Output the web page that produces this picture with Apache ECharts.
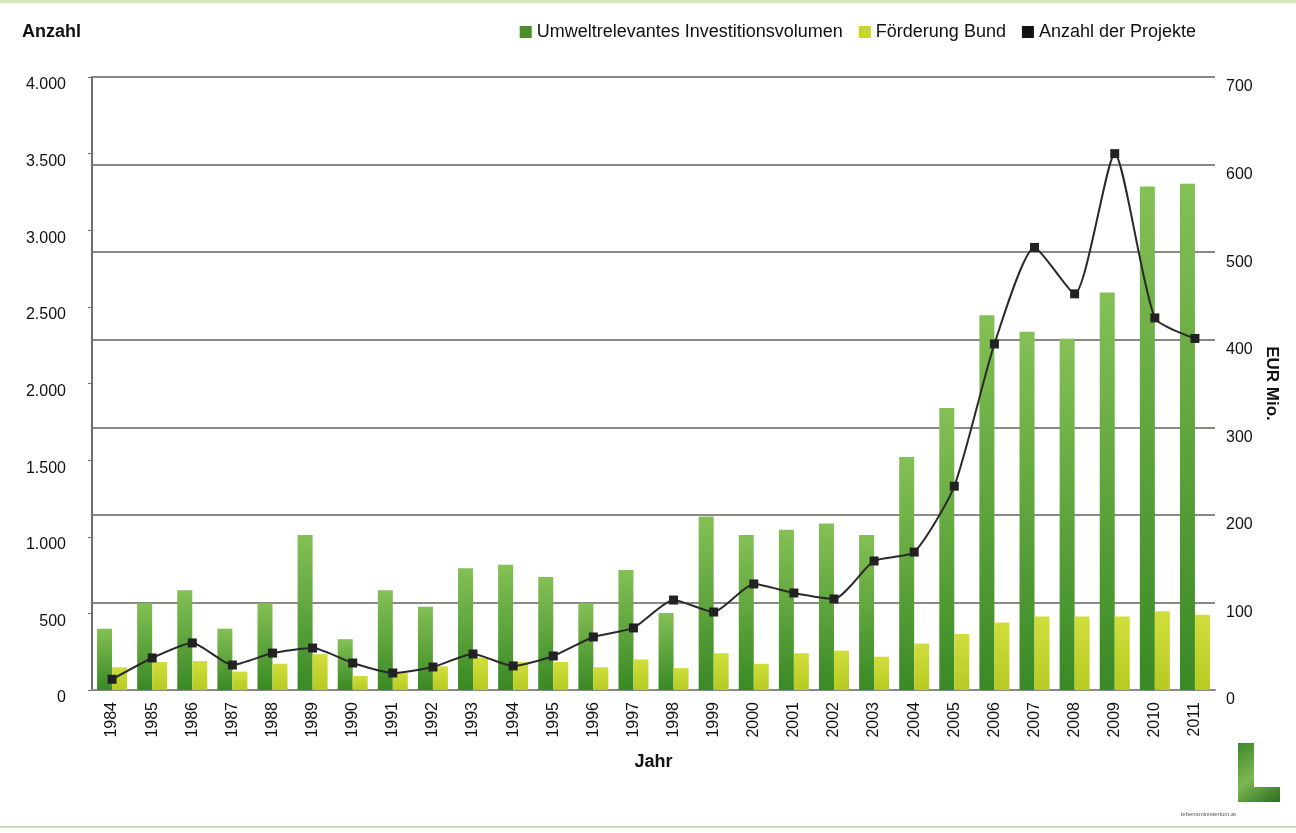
<!DOCTYPE html>
<html>
<head>
<meta charset="utf-8">
<script src="https://cdn.jsdelivr.net/npm/echarts@6/dist/echarts.min.js"></script>
<style>
  html, body { margin: 0; padding: 0; background: #ffffff; }
  #chart { width: 1296px; height: 833px; }
</style>
</head>
<body>
<div id="chart"></div>
<script>
// Jahre
const years = ['1984','1985','1986','1987','1988','1989','1990','1991','1992','1993',
  '1994','1995','1996','1997','1998','1999','2000','2001','2002','2003',
  '2004','2005','2006','2007','2008','2009','2010','2011'];

// Umweltrelevantes Investitionsvolumen (EUR Mio.)
const investVolume = [70, 99, 114, 70, 99, 177, 58, 114, 95, 139,
  143, 129, 99, 137, 88, 198, 177, 183, 190, 177,
  266, 322, 428, 409, 401, 454, 575, 578];

// Förderung Bund (EUR Mio.)
const foerderung = [26, 32, 33, 21, 30, 41, 16, 20, 27, 37,
  32, 32, 26, 35, 25, 42, 30, 42, 45, 38,
  53, 64, 77, 84, 84, 84, 90, 86];

// Anzahl der Projekte
const projekte = [70, 209, 307, 163, 241, 274, 176, 111, 150, 235,
  157, 222, 346, 405, 587, 509, 692, 633, 594, 842,
  900, 1330, 2258, 2888, 2585, 3500, 2428, 2294];

const FONT = '"Liberation Sans", Arial, sans-serif';
const fmtDE = v => String(v).replace(/\B(?=(\d{3})+(?!\d))/g, '.');

const chart = echarts.init(document.getElementById('chart'));
chart.setOption({
  animation: false,
  backgroundColor: '#ffffff',
  textStyle: { fontFamily: FONT, color: '#111' },
  title: {
    text: 'Anzahl', left: 17, top: 18,
    textStyle: { fontFamily: FONT, fontSize: 18, fontWeight: 'bold', color: '#111' }
  },
  legend: {
    right: 95, top: 18,
    itemWidth: 12, itemHeight: 12, itemGap: 16,
    icon: 'rect',
    textStyle: { fontFamily: FONT, fontSize: 18, color: '#111', padding: [0, 0, 0, 0] },
    data: [
      { name: 'Umweltrelevantes Investitionsvolumen', itemStyle: { color: '#4a8f2a' } },
      { name: 'Förderung Bund', itemStyle: { color: '#c6d62c' } },
      { name: 'Anzahl der Projekte', itemStyle: { color: '#111' } }
    ]
  },
  grid: { left: 92, right: 81, top: 77, bottom: 143 },
  xAxis: {
    type: 'category',
    data: years,
    name: 'Jahr',
    nameLocation: 'middle',
    nameGap: 63,
    nameTextStyle: { fontFamily: FONT, fontSize: 18, fontWeight: 'bold', color: '#111' },
    axisLine: { lineStyle: { color: '#8a8a84', width: 2 } },
    axisTick: { show: false },
    axisLabel: { rotate: 90, fontSize: 16, margin: 12, color: '#111', fontFamily: FONT }
  },
  yAxis: [
    {
      type: 'value', min: 0, max: 4000, interval: 500,
      position: 'left',
      axisLine: { show: true, lineStyle: { color: '#6e6e6a', width: 2 } },
      axisTick: { show: true, length: 4, lineStyle: { color: '#6e6e6a' } },
      splitLine: { show: false },
      axisLabel: {
        fontSize: 16, margin: 26, color: '#111', fontFamily: FONT,
        formatter: fmtDE, verticalAlign: 'top'
      }
    },
    {
      type: 'value', min: 0, max: 700, interval: 100,
      position: 'right',
      name: 'EUR Mio.',
      nameLocation: 'middle',
      nameRotate: -90,
      nameGap: 44,
      nameTextStyle: { fontFamily: FONT, fontSize: 17, fontWeight: 'bold', color: '#111' },
      axisLine: { show: false },
      axisTick: { show: false },
      splitLine: { show: true, lineStyle: { color: '#8a8a84', width: 2 } },
      axisLabel: {
        fontSize: 16, margin: 11, color: '#111', fontFamily: FONT,
        verticalAlign: 'top', padding: [2, 0, 0, 0]
      }
    }
  ],
  series: [
    {
      name: 'Umweltrelevantes Investitionsvolumen',
      type: 'bar',
      yAxisIndex: 1,
      barWidth: 15,
      barGap: '0%',
      data: investVolume,
      itemStyle: {
        color: new echarts.graphic.LinearGradient(0, 0, 0, 1, [
          { offset: 0, color: '#84c055' },
          { offset: 1, color: '#398924' }
        ])
      }
    },
    {
      name: 'Förderung Bund',
      type: 'bar',
      yAxisIndex: 1,
      barWidth: 15,
      barGap: '0%',
      data: foerderung,
      itemStyle: {
        color: new echarts.graphic.LinearGradient(0, 0, 0, 1, [
          { offset: 0, color: '#d0de3c' },
          { offset: 1, color: '#b6ca22' }
        ])
      }
    },
    {
      name: 'Anzahl der Projekte',
      type: 'line',
      yAxisIndex: 0,
      data: projekte,
      smooth: 0.2,
      symbol: 'rect',
      symbolSize: 9,
      z: 5,
      lineStyle: { color: '#2a2a2a', width: 2 },
      itemStyle: { color: '#222' }
    }
  ],
  graphic: [
    // thin frame lines at top and bottom of the page
    { type: 'rect', left: 0, top: 0, shape: { width: 1296, height: 3 }, style: { fill: '#d6e8bd' }, silent: true },
    { type: 'rect', left: 0, top: 826, shape: { width: 1296, height: 2 }, style: { fill: '#cbdcbc' }, silent: true },
    // logo
    {
      type: 'polygon',
      shape: { points: [[1238, 743], [1254, 743], [1254, 787], [1280, 787], [1280, 802], [1238, 802]] },
      style: {
        fill: new echarts.graphic.LinearGradient(0, 0, 1, 1, [
          { offset: 0, color: '#3f8a28' },
          { offset: 0.5, color: '#7db653' },
          { offset: 1, color: '#2d6e1c' }
        ])
      },
      silent: true
    },
    {
      type: 'text', left: 1181, top: 811,
      style: { text: 'lebensministerium.at', fontSize: 6, fill: '#555', fontFamily: FONT },
      silent: true
    }
  ]
});
</script>
</body>
</html>
